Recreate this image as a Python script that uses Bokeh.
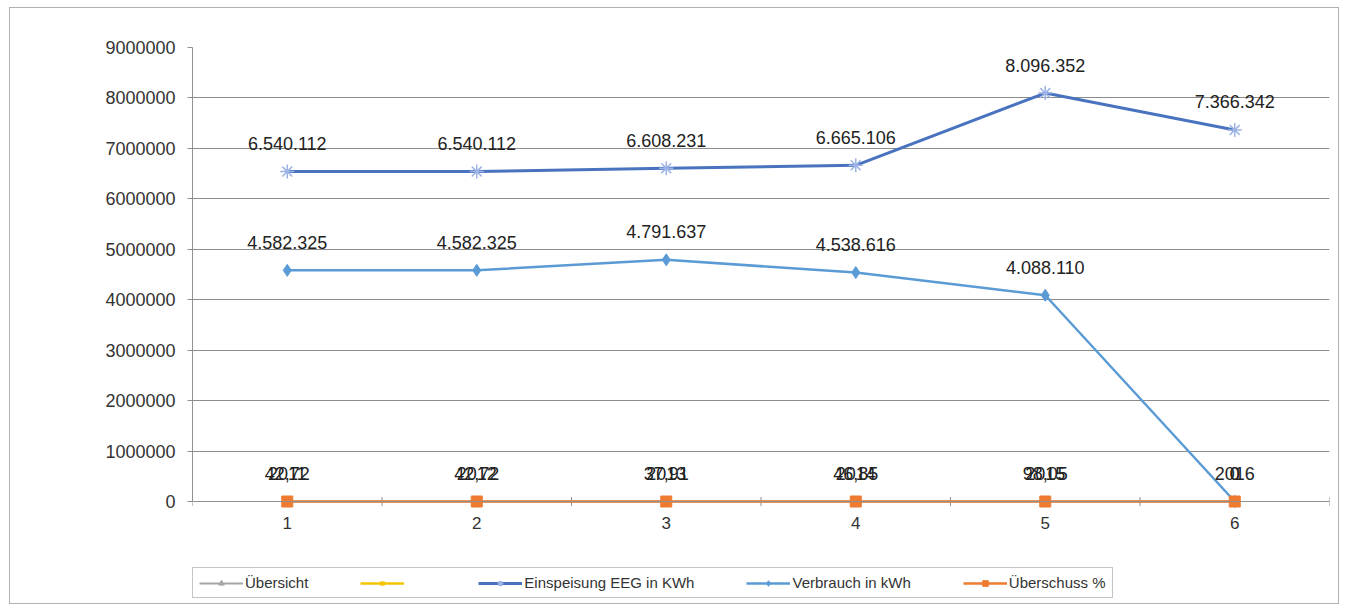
import math
from bokeh.plotting import figure
from bokeh.models import (ColumnDataSource, Range1d, FixedTicker, LabelSet, Legend, LegendItem, Span)
from bokeh.core.properties import value
from bokeh.embed import file_html
from bokeh.resources import INLINE

# ---- data ----
categories = [1, 2, 3, 4, 5, 6]
uebersicht = [2011, 2012, 2013, 2014, 2015, 2016]
gelb = [float("nan")] * 6  # series without visible values (legend only)
einspeisung = [6540112, 6540112, 6608231, 6665106, 8096352, 7366342]
verbrauch = [4582325, 4582325, 4791637, 4538616, 4088110, 0]
ueberschuss = [42.72, 42.72, 37.91, 46.85, 98.05, 0]
y_ticks = [0, 1000000, 2000000, 3000000, 4000000, 5000000, 6000000, 7000000, 8000000, 9000000]

def de_int(v):
    return f"{v:,}".replace(",", ".")

def de_pct(v):
    return "0" if v == 0 else f"{v:.2f}".replace(".", ",")

FONT = "Liberation Sans"
TXT = "#333333"

frame_h = 556
y_top = 9000000
y_bottom = -(frame_h - 454) / 454 * y_top

p = figure(output_backend="svg", toolbar_location=None,
           frame_width=1137, frame_height=frame_h,
           min_border_left=182, min_border_right=9, min_border_top=39, min_border_bottom=0,
           x_range=Range1d(0.5, 6.5), y_range=Range1d(y_bottom, y_top),
           background_fill_color="white", border_fill_color="white")
p.styles = {"border": "1px solid #b0b0b0", "margin": "7px 0 0 9px"}
p.outline_line_color = None

# axes
p.yaxis.ticker = FixedTicker(ticks=y_ticks)
p.yaxis.bounds = (0, y_top)
p.yaxis.axis_line_color = "#909090"
p.yaxis.major_tick_line_color = "#909090"
p.yaxis.major_tick_out = 5
p.yaxis.major_tick_in = 0
p.yaxis.minor_tick_line_color = None
p.yaxis.major_label_standoff = 12
p.yaxis.major_label_text_font = FONT
p.yaxis.major_label_text_font_size = "18px"
p.yaxis.major_label_text_color = TXT
p.yaxis.formatter.use_scientific = False

p.xaxis.visible = False
p.xgrid.grid_line_color = None
p.ygrid.ticker = FixedTicker(ticks=y_ticks[1:])
p.ygrid.grid_line_color = "#8c8c8c"
p.ygrid.grid_line_width = 1

# category axis line at zero with boundary tick marks and category labels
p.add_layout(Span(location=0, dimension="width", line_color="#909090", line_width=1))
bounds_x = [c - 0.5 for c in categories] + [categories[-1] + 0.5]
p.scatter(bounds_x, [0] * len(bounds_x), marker="dash", angle=math.pi / 2, size=9,
          line_color="#909090", line_width=1)
p.text(x=categories, y=[0] * len(categories), text=[str(c) for c in categories],
       y_offset=21, text_align="center", text_baseline="middle",
       text_font=value(FONT), text_font_size="17px", text_color=TXT)

src = ColumnDataSource(dict(
    x=categories,
    ueb=uebersicht,
    gelb=gelb,
    ein=einspeisung,
    ver=verbrauch,
    pct=ueberschuss,
    pct_y=[0] * len(categories),
    ueb_lbl=[str(v) for v in uebersicht],
    ein_lbl=[de_int(v) for v in einspeisung],
    ver_lbl=[de_int(v) for v in verbrauch],
    pct_lbl=[de_pct(v) for v in ueberschuss],
))

GRAY = "#a6a6a6"
YELLOW = "#f5c400"
BLUE = "#4a73bf"
BLUE_M = "#9db3e6"
LBLUE = "#5a9bd5"
ORANGE = "#ee7b30"

r_ueb_l = p.line("x", "ueb", source=src, line_color=GRAY, line_width=2)
r_ueb_m = p.scatter("x", "ueb", source=src, marker="triangle", size=9, color=GRAY)
r_gel_l = p.line("x", "gelb", source=src, line_color=YELLOW, line_width=2.5)
r_gel_m = p.scatter("x", "gelb", source=src, marker="x", size=8, line_color=YELLOW, line_width=2)
r_ein_l = p.line("x", "ein", source=src, line_color=BLUE, line_width=3)
r_ein_m = p.scatter("x", "ein", source=src, marker="asterisk", size=14, line_color=BLUE_M, line_width=1.5)
r_ver_l = p.line("x", "ver", source=src, line_color=LBLUE, line_width=2.5)
r_ver_m = p.scatter("x", "ver", source=src, marker="diamond", size=12, color=LBLUE)
r_pct_l = p.line("x", "pct_y", source=src, line_color=ORANGE, line_width=2.5)
r_pct_m = p.scatter("x", "pct_y", source=src, marker="square", size=11, color=ORANGE)

for ycol, lcol in [("ueb", "ueb_lbl"), ("ein", "ein_lbl"), ("ver", "ver_lbl"), ("pct_y", "pct_lbl")]:
    ls = LabelSet(x="x", y=ycol, text=lcol, source=src, x_offset=0, y_offset=28,
                  text_align="center", text_baseline="middle",
                  text_font=value(FONT), text_font_size="18px", text_color="#222222")
    p.add_layout(ls)

legend = Legend(items=[
    LegendItem(label="Übersicht", renderers=[r_ueb_l, r_ueb_m]),
    LegendItem(label=" ", renderers=[r_gel_l, r_gel_m]),
    LegendItem(label="Einspeisung EEG in KWh", renderers=[r_ein_l, r_ein_m]),
    LegendItem(label="Verbrauch in kWh", renderers=[r_ver_l, r_ver_m]),
    LegendItem(label="Überschuss %", renderers=[r_pct_l, r_pct_m]),
], orientation="horizontal", location=(0, 5),
    label_text_font=FONT, label_text_font_size="15px", label_text_color=TXT,
    glyph_width=44, glyph_height=14, label_standoff=2, spacing=52,
    padding=6, margin=0, border_line_color="#8c8c8c", border_line_width=1,
    background_fill_color="white", background_fill_alpha=1)
p.add_layout(legend, "center")

open("out.html", "w").write(file_html(p, INLINE))
